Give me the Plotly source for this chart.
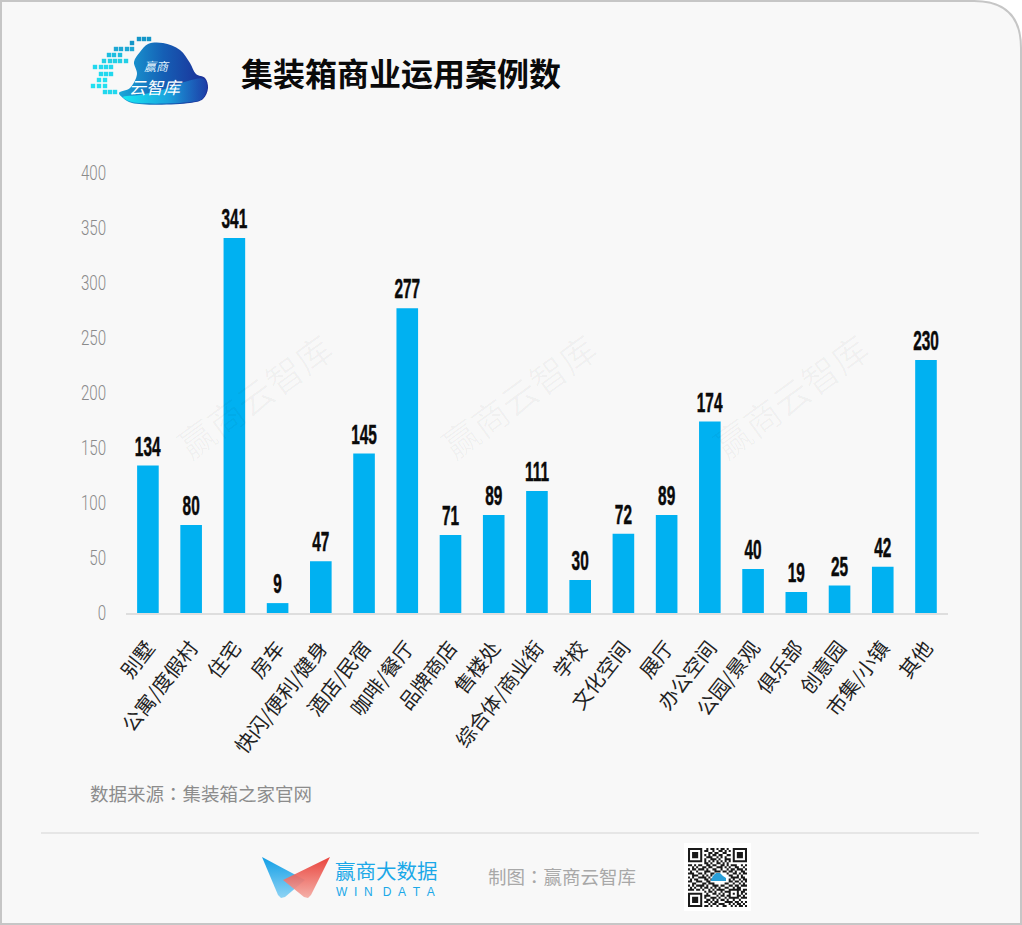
import plotly.graph_objects as go

categories = ["别墅", "公寓/度假村", "住宅", "房车", "快闪/便利/健身", "酒店/民宿", "咖啡/餐厅", "品牌商店", "售楼处",
              "综合体/商业街", "学校", "文化空间", "展厅", "办公空间", "公园/景观", "俱乐部", "创意园", "市集/小镇", "其他"]
cases = [134, 80, 341, 9, 47, 145, 277, 71, 89, 111, 30, 72, 89, 174, 40, 19, 25, 42, 230]
y_ticks = [0, 50, 100, 150, 200, 250, 300, 350, 400]

W = 1022
H = 925
CJK = "Noto Sans CJK SC"
CJK_TC = "Noto Sans CJK TC"  # has the centred full width colon
LATIN = "Liberation Sans"


def fx(x):
    return x / W


def fy(y):
    return 1 - y / H


def path(points, close=True):
    d = "M" + " L".join(f"{fx(x):.5f},{fy(y):.5f}" for x, y in points)
    return d + (" Z" if close else "")


def blob(points, gradient, kind="horizontal", line_shape="linear"):
    # gradient filled outline on the pixel axes x2/y2
    xs = [p[0] for p in points] + [points[0][0]]
    ys = [p[1] for p in points] + [points[0][1]]
    fig.add_trace(go.Scatter(x=xs, y=ys, xaxis="x2", yaxis="y2", mode="lines", fill="toself", hoverinfo="skip",
                             line=dict(color="rgba(0,0,0,0)", shape=line_shape, width=0),
                             fillgradient=dict(type=kind, colorscale=gradient)))


fig = go.Figure()

# the chart
fig.add_trace(go.Bar(x=categories, y=cases, marker=dict(color="#00b1f1", line=dict(width=0)),
                     text=cases, textposition="outside", cliponaxis=False, hoverinfo="skip", constraintext="none",
                     textfont=dict(family=LATIN, size=28, color="#0a0a0a", weight="bold")))

shapes = []
annotations = []


def label(x, y, text, size, color, anchor="left", family=CJK, **kw):
    annotations.append(dict(x=fx(x), y=fy(y), xref="paper", yref="paper", text=text, showarrow=False, borderpad=0,
                            xanchor=anchor, yanchor="middle", font=dict(family=family, size=size, color=color), **kw))


# frame, only the top right corner is round
r = 47
shapes.append(dict(type="path", xref="paper", yref="paper", layer="below", fillcolor="#f8f8f8",
                   line=dict(color="#c6c6c6", width=2),
                   path=f"M{fx(1)},{fy(924)} L{fx(1)},{fy(1)} L{fx(W-1-r)},{fy(1)} "
                        f"Q{fx(W-1)},{fy(1)} {fx(W-1)},{fy(1+r)} L{fx(W-1)},{fy(924)} Z"))

# watermarks
for wx in [254, 518, 790]:
    label(wx, 395, "赢商云智库", 36, "rgba(0,0,0,0.03)", anchor="center", textangle=-36)

# cloud logo
cloud = [(119, 93), (130, 88), (137, 74), (134, 62), (140, 52), (148, 44), (163, 43), (180, 50), (190, 63), (196, 74),
         (205, 78), (208, 88), (203, 99), (190, 103), (132, 103), (123, 98)]
blob(cloud, [[0, "#1aa8d8"], [0.5, "#155fb5"], [1, "#1c2c96"]], line_shape="spline")
blob([(123, 97), (140, 95), (165, 89), (188, 81), (204, 79), (207, 88), (202, 99), (190, 102), (132, 102)],
     [[0, "#17e8f2"], [0.55, "#1aa0dc"], [1, "rgba(30,90,190,0.4)"]], line_shape="spline")

square_rows = [
    (39, [139, 144, 149], "#1496c8"),
    (43, [132], "#1496c8"),
    (49, [116, 121, 127, 132], "#1ea8d4"),
    (55, [109, 114, 120], "#1dbde0"),
    (61, [104, 110, 115, 120, 126], "#22cfe6"),
    (67, [95, 101, 106, 111], "#22d8ee"),
    (74, [101, 106, 111], "#22d8ee"),
    (80, [99, 105], "#22e0f0"),
    (86, [93, 99, 105], "#22e0f0"),
    (92, [105, 110, 115], "#22d8ee"),
]
for sy, xs, color in square_rows:
    for sx in xs:
        shapes.append(dict(type="rect", xref="paper", yref="paper", x0=fx(sx - 2.2), x1=fx(sx + 2.2),
                           y0=fy(sy + 2.2), y1=fy(sy - 2.2), fillcolor=color, line_width=0))
label(157, 65.5, "<i>赢商</i>", 12, "#dfeffa", anchor="center")
label(156, 86.5, "<i>云智库</i>", 17, "#ffffff", anchor="center")

# title and source
label(240, 72, "<b>集装箱商业运用案例数</b>", 32, "#0a0a0a")
label(89, 793, "数据来源：集装箱之家官网", 18.5, "#8c8c8c", family=CJK_TC)

# footer
shapes.append(dict(type="line", xref="paper", yref="paper", x0=fx(41), x1=fx(979), y0=fy(833), y1=fy(833),
                   line=dict(color="#e6e6e6", width=2)))
blob([(262, 857), (305, 880), (285, 897), (281, 898), (278, 895)], [[0, "#8ed3f4"], [1, "#129fe6"]], kind="vertical")
blob([(330, 857), (283, 880), (304, 897), (308, 898), (311, 895)],
     [[0, "rgba(244,170,162,0.92)"], [1, "rgba(232,52,44,0.92)"]], kind="vertical")
label(334, 870, "赢商大数据", 20.5, "#1ba8e8")
nb = "\u00a0\u00a0"
label(335, 892, nb.join("WIN") + nb + "\u00a0" + nb.join("DATA"), 12, "#1ba8e8", family=LATIN)
label(487, 876, "制图：赢商云智库", 18.5, "#a8a8a8", family=CJK_TC)

# qr code
qr_rows = [
    "11111110010110101101001111111",
    "10000010110010011010101000001",
    "10111010001101100110001011101",
    "10111010101011011001101011101",
    "10111010011100101010001011101",
    "10000010100111010011101000001",
    "11111110101010101010101111111",
    "00000000110100110101000000000",
    "11010110011011001101011100101",
    "00101001101100111010100110010",
    "10110111010011001001011011101",
    "01001000111001110110110100110",
    "11100110100110000001001101011",
    "00111001010100000000110010100",
    "10100111101000000000011110110",
    "01011000110100000000101001011",
    "11001110011000000000110110101",
    "00110001101110000011001001010",
    "10101111010011101100110110111",
    "01010010110101010011001011000",
    "11101101001010111100111111011",
    "00000000101101001011100010110",
    "11111110010011010100101010101",
    "10000010111000101101100011010",
    "10111010100111010010111110111",
    "10111010011010101101001001000",
    "10111010110101100011110110101",
    "10000010001011011100101011010",
    "11111110110100100110010101101",
]
shapes.append(dict(type="rect", xref="paper", yref="paper", x0=fx(684), x1=fx(751), y0=fy(911), y1=fy(843),
                   fillcolor="#ffffff", line_width=0))
qr_x = 688
qr_y = 848
cell = 59 / len(qr_rows)
qr_path = ""
for i, row in enumerate(qr_rows):
    for j, bit in enumerate(row):
        if bit == "1":
            x0, x1 = qr_x + j * cell, qr_x + (j + 1) * cell
            y0, y1 = qr_y + i * cell, qr_y + (i + 1) * cell
            qr_path += path([(x0, y0), (x1, y0), (x1, y1), (x0, y1)]) + " "
shapes.append(dict(type="path", xref="paper", yref="paper", path=qr_path, fillcolor="#1a1a1a", line_width=0))
shapes.append(dict(type="path", xref="paper", yref="paper",
                   path=path([(711, 880), (713, 876), (716, 873), (720, 873), (723, 876), (726, 878), (726, 881), (711, 881)]),
                   fillcolor="#2a9fd8", line_width=0))

fig.update_layout(
    width=W, height=H, margin=dict(l=0, r=0, t=0, b=0), autosize=False,
    paper_bgcolor="#ffffff", plot_bgcolor="rgba(0,0,0,0)", showlegend=False, bargap=0.5,
    shapes=shapes, annotations=annotations,
    xaxis=dict(domain=[fx(126.3), fx(947.6)], tickangle=-52, tickfont=dict(family=CJK, size=20, color="#222222"),
               showgrid=False, ticks="outside", ticklen=13, tickcolor="rgba(0,0,0,0)", fixedrange=True, automargin=False,
               showline=True, linecolor="#dedede", linewidth=2, categoryorder="array", categoryarray=categories),
    yaxis=dict(domain=[fy(613), fy(173)], range=[0, 400], tickvals=y_ticks, showgrid=False, zeroline=False,
               tickfont=dict(family="Roboto", size=21, color="#8a8a8a", weight=300), ticks="outside", ticklen=15, automargin=False,
               tickcolor="rgba(0,0,0,0)", showline=False, fixedrange=True),
    xaxis2=dict(domain=[0, 1], range=[0, W], visible=False, anchor="y2", fixedrange=True, automargin=False),
    yaxis2=dict(domain=[0, 1], range=[H, 0], visible=False, anchor="x2", fixedrange=True, automargin=False),
)

# no condensed font installed, so squeeze the numbers the way the reference has them
squeeze = """
document.body.style.margin = '0';
setTimeout(function () {
  function narrow(sel, k) {
    document.querySelectorAll(sel).forEach(function (t) {
      var len = t.getComputedTextLength();
      t.setAttribute('textLength', len * k);
      t.setAttribute('lengthAdjust', 'spacingAndGlyphs');
    });
  }
  narrow('.bartext', 0.55);
  narrow('.ytick text', 0.72);
  document.querySelectorAll('.bartext').forEach(function (t) {
    t.setAttribute('dy', -1);
    t.style.stroke = '#0a0a0a';
    t.style.strokeWidth = '0.5px';
  });
}, 150);
"""
fig.write_html("out.html", config=dict(displayModeBar=False), post_script=squeeze)
